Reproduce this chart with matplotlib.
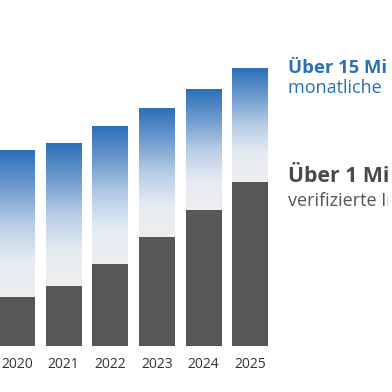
import matplotlib
matplotlib.use('Agg')
import matplotlib.pyplot as plt
import numpy as np
from matplotlib.colors import LinearSegmentedColormap
from matplotlib.transforms import Bbox, TransformedBbox

plt.rcParams['font.family'] = ['Open Sans', 'DejaVu Sans']

# values (arbitrary units, 2025 total = 15)
years = ['2020', '2021', '2022', '2023', '2024', '2025']
monthly = [10.6, 11.0, 11.9, 12.9, 13.9, 15.0]
verified = [2.66, 3.25, 4.43, 5.93, 7.39, 8.87]

blue = '#2b70b7'
grey = '#575757'
fade = LinearSegmentedColormap.from_list(
    'fade', ['#eeeeef', '#e6ebf3', '#b7cde6', '#6f9bcf', blue], N=256)

fig = plt.figure(figsize=(3.92, 3.92), dpi=100)
# axes placed so that bars line up with the reference crop
ax = fig.add_axes([0, 46 / 392, 1, 1 - 46 / 392])
x = np.arange(len(years))
width = 0.77

ax.bar(x, verified, width=width, color=grey, zorder=3)

grad = np.linspace(0, 1, 256).reshape(-1, 1)
for xi, lo, hi in zip(x, verified, monthly):
    ax.imshow(grad, cmap=fade, origin='lower', aspect='auto',
              extent=[xi - width / 2, xi + width / 2, lo, hi], zorder=2)

ax.set_xlim(-17 / 46.66, (392 - 17) / 46.66)
ax.set_ylim(0, 346 * 15 / 276.7)
ax.set_xticks(x)
ax.set_xticklabels(years, fontsize=10, color='#333333')
ax.tick_params(axis='x', length=0, pad=8)
ax.set_yticks([])
for s in ax.spines.values():
    s.set_visible(False)

# the reference is cropped on the right, so the legend text is clipped
clip = TransformedBbox(Bbox([[0, 0], [388 / 392, 1]]), fig.transFigure)
labels = [
    ('Über 15 Millionen', 72.7, 13.3, 'bold', blue),
    ('monatliche Nutzer', 93.3, 13, 'normal', blue),
    ('Über 1 Million', 181.7, 15.3, 'bold', '#4a4a4a'),
    ('verifizierte Inserate', 206.5, 13, 'normal', '#555555'),
]
for txt, ypx, size, weight, col in labels:
    t = fig.text(288 / 392, 1 - ypx / 392, txt, fontsize=size,
                 fontweight=weight, color=col, va='baseline')
    t.set_clip_box(clip)
    t.set_clip_on(True)

fig.savefig('out.png', dpi=100)
